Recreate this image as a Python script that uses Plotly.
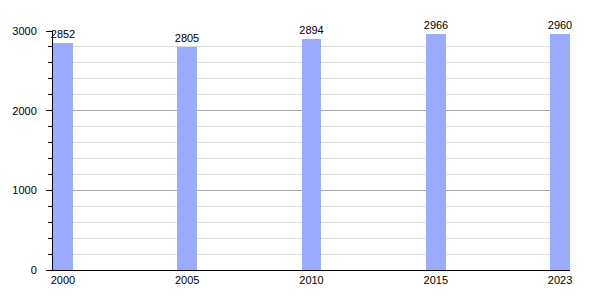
import plotly.graph_objects as go

years = ["2000", "2005", "2010", "2015", "2023"]
population = [2852, 2805, 2894, 2966, 2960]

fig = go.Figure(go.Bar(
    x=years, y=population, width=0.16,
    marker=dict(color="#99aaff", line=dict(width=0)),
    text=[str(v) for v in population], textposition="outside",
    constraintext="none",
    textfont=dict(family="Liberation Sans, Arial", size=11, color="black"),
    cliponaxis=False,
))

fig.update_layout(
    width=600, height=300,
    margin=dict(l=50, r=30, t=31, b=30),
    paper_bgcolor="white", plot_bgcolor="white",
    showlegend=False,
    font=dict(family="Liberation Sans, Arial", size=11, color="black"),
    bargap=0,
)
fig.update_xaxes(
    type="category", range=[-0.08, 4.08],
    showline=True, linecolor="black", linewidth=1,
    ticks="", showgrid=False, tickfont=dict(size=11, color="black"),
)
fig.update_yaxes(
    range=[0, 3000], dtick=1000, tick0=0,
    showline=True, linecolor="black", linewidth=1,
    ticks="outside", ticklen=6, tickcolor="black",
    showgrid=True, gridcolor="#aaaaaa", gridwidth=1,
    zeroline=False, tickfont=dict(size=11, color="black"),
    ticklabelstandoff=7,
    minor=dict(dtick=200, tick0=0, showgrid=True, gridcolor="#dddddd",
               ticks="outside", ticklen=4, tickcolor="black"),
)

fig.write_html("out.html")
